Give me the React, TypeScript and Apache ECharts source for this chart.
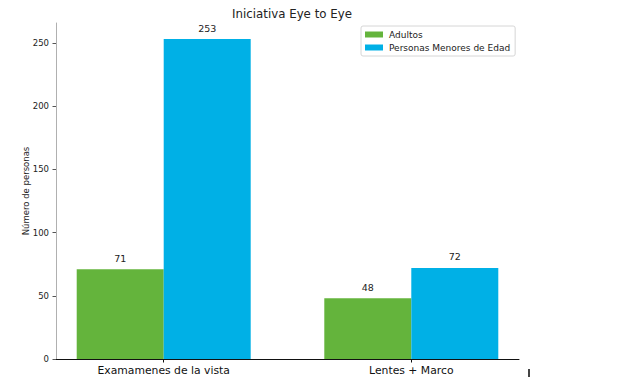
import React, { useEffect, useRef } from "react";
import * as echarts from "echarts";

const categories = ["Examamenes de la vista", "Lentes + Marco"];
const adultos = [71, 48];
const menores = [253, 72];
const yTicks = [0, 50, 100, 150, 200, 250];
const seriesNames = ["Adultos", "Personas Menores de Edad"];
const colors = ["#64b43c", "#00b0e6"];

export default function App() {
  const ref = useRef<HTMLDivElement>(null);
  useEffect(() => {
    if (!ref.current) return;
    const chart = echarts.init(ref.current, null, { renderer: "svg" });
    const font = "DejaVu Sans";
    const catIdx = categories.map((_, i) => i);
    const mk = (vals: number[]) => vals.map((v, i) => [catIdx[i], v]);
    const label = {
      show: true,
      position: "top",
      distance: 6,
      fontFamily: font,
      fontSize: 9.5,
      color: "#222",
      formatter: (p: any) => String(p.value[1]),
    };
    chart.setOption({
      animation: false,
      title: {
        text: "Iniciativa Eye to Eye",
        left: 287,
        textAlign: "center",
        top: 3,
        textStyle: { fontFamily: font, fontSize: 11.8, fontWeight: "normal", color: "#222" },
      },
      legend: {
        orient: "vertical",
        left: 361,
        top: 26,
        itemWidth: 18,
        itemHeight: 6,
        itemGap: 4,
        padding: [4, 5, 4, 4],
        borderColor: "#d6d6d6",
        borderWidth: 1,
        borderRadius: 2,
        icon: "rect",
        textStyle: { fontFamily: font, fontSize: 9, color: "#222", padding: [0, 0, 0, 1] },
        data: seriesNames,
      },
      grid: { left: 56, right: 111, top: 23, bottom: 18 },
      xAxis: {
        type: "value",
        min: -0.435,
        max: 1.435,
        splitLine: { show: false },
        axisLine: { show: true, onZero: false, lineStyle: { color: "#111", width: 1 } },
        axisTick: {
          show: true,
          customValues: catIdx,
          length: 3.5,
          lineStyle: { color: "#111" },
        },
        axisLabel: {
          customValues: catIdx,
          formatter: (v: number) => categories[Math.round(v)] ?? "",
          fontFamily: font,
          fontSize: 10.8,
          color: "#111",
          margin: 6,
        },
      },
      yAxis: {
        type: "value",
        min: 0,
        max: 265.65,
        name: "Número de personas",
        nameLocation: "middle",
        nameGap: 26,
        nameMoveOverlap: false,
        nameTextStyle: { fontFamily: font, fontSize: 8.5, color: "#222" },
        splitLine: { show: false },
        axisLine: { show: true, onZero: false, lineStyle: { color: "#b0b0b0", width: 1 } },
        axisTick: { show: true, customValues: yTicks, length: 3.5, lineStyle: { color: "#555" } },
        axisLabel: {
          customValues: yTicks,
          fontFamily: font,
          fontSize: 8.5,
          color: "#222",
          margin: 7,
        },
      },
      series: [
        {
          name: seriesNames[0],
          type: "bar",
          data: mk(adultos),
          barWidth: 87,
          barGap: "0%",
          itemStyle: { color: colors[0] },
          label,
        },
        {
          name: seriesNames[1],
          type: "bar",
          data: mk(menores),
          barWidth: 87,
          barGap: "0%",
          itemStyle: { color: colors[1] },
          label,
        },
      ],
      graphic: [
        {
          type: "rect",
          shape: { x: 528, y: 369, width: 2, height: 8 },
          style: { fill: "#444" },
        },
      ],
    });
    return () => chart.dispose();
  }, []);
  return <div ref={ref} style={{ width: 630, height: 377, position: "absolute", left: 0, top: 0 }} />;
}
